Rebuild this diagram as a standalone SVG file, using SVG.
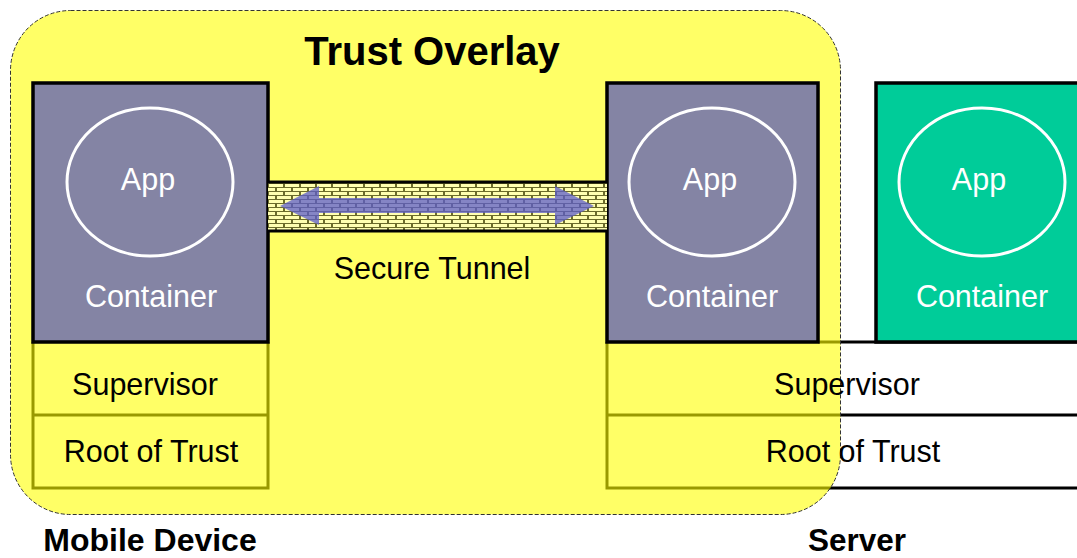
<svg xmlns="http://www.w3.org/2000/svg" width="1077" height="558" viewBox="0 0 1077 558">
  <style>
    .txt { font-family: "Liberation Sans", Arial, sans-serif; }
    .lbl { font-size: 30.5px; fill: #000; text-anchor: middle; }
    .wlbl { font-size: 30.5px; fill: #fff; text-anchor: middle; }
    .bold { font-weight: bold; fill: #000; }
    .row { fill: none; stroke: #000; stroke-width: 3; }
    .box { stroke: #000; stroke-width: 3.5; }
    .app { fill: none; stroke: #fff; stroke-width: 3; }
  </style>
  <defs>
    <pattern id="brick" patternUnits="userSpaceOnUse" x="268" y="183" width="16" height="8">
      <rect width="16" height="8" fill="#6b6b2a"/>
      <rect x="1" y="1" width="14" height="3" fill="#ffffb0"/>
      <rect x="-7" y="5" width="14" height="3" fill="#ffffb0"/>
      <rect x="9" y="5" width="14" height="3" fill="#ffffb0"/>
    </pattern>
  </defs>

  <rect width="1077" height="558" fill="#fff"/>

  <!-- platform layers (drawn beneath the overlay tint) -->
  <g id="layers">
    <path class="row" d="M33 342 V488 H268 V342 M33 415 H268"/>
    <path class="row" d="M607 342 V488 H1077 M607 415 H1077 M818 342 H1077"/>
  </g>

  <!-- trust overlay region -->
  <g id="overlay">
    <rect x="10.5" y="10.5" width="830" height="504" rx="60" ry="60" fill="#ffff00" fill-opacity="0.6" stroke="#333" stroke-width="1" stroke-dasharray="4 2"/>
    <text class="txt bold" x="432" y="65" font-size="40" text-anchor="middle">Trust Overlay</text>
  </g>

  <!-- mobile device -->
  <g id="mobile-container">
    <rect class="box" x="33" y="83" width="235" height="259" fill="#8484a4"/>
    <ellipse class="app" cx="150" cy="182" rx="83" ry="74"/>
    <text class="txt wlbl" x="148" y="190">App</text>
    <text class="txt wlbl" x="151" y="307">Container</text>
  </g>
  <g id="mobile-supervisor">
    <text class="txt lbl" x="145" y="395">Supervisor</text>
  </g>
  <g id="mobile-rot">
    <text class="txt lbl" x="151" y="462">Root of Trust</text>
  </g>
  <text class="txt bold" x="150" y="551" font-size="32" text-anchor="middle">Mobile Device</text>

  <!-- server -->
  <g id="server-container-1">
    <rect class="box" x="607" y="83" width="211" height="259" fill="#8484a4"/>
    <ellipse class="app" cx="712" cy="182" rx="83" ry="74"/>
    <text class="txt wlbl" x="710" y="190">App</text>
    <text class="txt wlbl" x="712" y="307">Container</text>
  </g>
  <g id="server-container-2">
    <rect class="box" x="876" y="83" width="210" height="259" fill="#00cc99"/>
    <ellipse class="app" cx="982" cy="182" rx="83" ry="74"/>
    <text class="txt wlbl" x="979" y="190">App</text>
    <text class="txt wlbl" x="982" y="307">Container</text>
  </g>
  <g id="server-supervisor">
    <text class="txt lbl" x="847" y="395">Supervisor</text>
  </g>
  <g id="server-rot">
    <text class="txt lbl" x="853" y="462">Root of Trust</text>
  </g>
  <text class="txt bold" x="857" y="551" font-size="31.5" text-anchor="middle">Server</text>

  <!-- secure tunnel between the two containers -->
  <g id="connectors">
    <rect x="268" y="182" width="339" height="49" fill="url(#brick)"/>
    <path d="M268 182 H607 M268 231 H607" stroke="#000" stroke-width="3"/>
    <polygon points="280,206 319,186 319,198 555,198 555,186 594,206 555,225 555,213 319,213 319,225" fill="#5c5ccc" fill-opacity="0.75"/>
    <text class="txt lbl" x="432" y="279">Secure Tunnel</text>
  </g>
</svg>
